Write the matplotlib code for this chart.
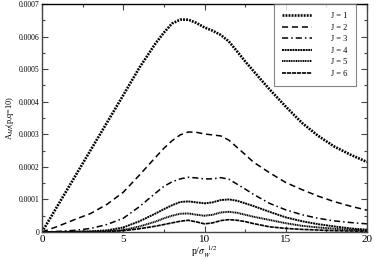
import numpy as np
import matplotlib.pyplot as plt
from matplotlib.ticker import MultipleLocator

plt.rcParams['font.family'] = ['Liberation Serif', 'DejaVu Serif']
plt.rcParams['mathtext.fontset'] = 'stix'

x = [0, 1, 2, 3, 4, 5, 6, 7, 7.5, 8, 8.5, 9, 9.5, 10, 10.5, 11, 11.5, 12, 12.5, 13,
     14, 15, 16, 17, 18, 19, 20]

# values in units of 1e-4
j1 = [0, 0.84, 1.68, 2.52, 3.36, 4.2, 5.05, 5.8, 6.12, 6.4, 6.52, 6.52, 6.42, 6.28, 6.18, 6.05,
      5.85, 5.55, 5.24, 4.95, 4.38, 3.85, 3.35, 2.95, 2.62, 2.37, 2.15]
j2 = [0, 0.18, 0.38, 0.57, 0.85, 1.22, 1.75, 2.3, 2.57, 2.8, 2.98, 3.07, 3.06, 3.01, 2.98, 2.95,
      2.82, 2.6, 2.38, 2.15, 1.82, 1.52, 1.3, 1.1, 0.93, 0.79, 0.67]
j3 = [0, 0.02, 0.05, 0.11, 0.23, 0.42, 0.78, 1.2, 1.4, 1.54, 1.63, 1.68, 1.66, 1.63, 1.63, 1.67,
      1.62, 1.47, 1.32, 1.16, 0.88, 0.68, 0.53, 0.42, 0.34, 0.29, 0.25]
j4 = [0, 0, 0.01, 0.02, 0.05, 0.14, 0.33, 0.57, 0.7, 0.82, 0.92, 0.94, 0.91, 0.88, 0.91, 0.98,
      1.0, 0.96, 0.88, 0.8, 0.62, 0.45, 0.33, 0.24, 0.17, 0.11, 0.07]
j5 = [0, 0, 0, 0.01, 0.02, 0.06, 0.17, 0.32, 0.42, 0.5, 0.56, 0.57, 0.53, 0.5, 0.53, 0.6,
      0.62, 0.59, 0.53, 0.47, 0.37, 0.27, 0.19, 0.14, 0.1, 0.07, 0.05]
j6 = [0, 0, 0, 0, 0.01, 0.04, 0.1, 0.18, 0.23, 0.28, 0.33, 0.36, 0.31, 0.25, 0.28, 0.35,
      0.38, 0.36, 0.32, 0.26, 0.16, 0.11, 0.08, 0.06, 0.04, 0.03, 0.02]

series = [j1, j2, j3, j4, j5, j6]
labels = ["J = 1", "J = 2", "J = 3", "J = 4", "J = 5", "J = 6"]
styles = [(0, (0.7, 0.45)), (0, (4, 2.5)), (0, (4, 2, 1, 2)), (0, (1, 0.35)), (0, (0.6, 0.3)), (0, (2.5, 0.5))]
widths = [1.9, 1.1, 1.1, 1.4, 1.4, 1.2]

fig = plt.figure(figsize=(3.74, 2.61), dpi=100)
ax = fig.add_axes([42 / 374, 1 - 232 / 261, 325 / 374, 228 / 261])

for y, lab, ls, lw in zip(series, labels, styles, widths):
    ax.plot(x, np.array(y) * 1e-4, color='black', linestyle=ls, linewidth=lw, label=lab)

ax.set_xlim(0, 20)
ax.set_ylim(0, 0.0007)
ax.xaxis.set_major_locator(MultipleLocator(5))
ax.xaxis.set_minor_locator(MultipleLocator(2.5))
ax.yaxis.set_minor_locator(MultipleLocator(0.00005))
ax.set_yticks(np.arange(0, 0.00071, 0.0001))
ax.set_yticklabels(["0", "0.0001", "0.0002", "0.0003", "0.0004", "0.0005", "0.0006", "0.0007"])
ax.tick_params(axis='both', which='both', direction='in', top=True, right=True, colors='#444444')
ax.tick_params(axis='both', which='major', length=4, width=0.8)
ax.tick_params(axis='both', which='minor', length=2, width=0.8)
ax.tick_params(axis='x', labelsize=8, labelcolor='black', pad=2)
ax.tick_params(axis='y', labelsize=5.5, labelcolor='black', pad=2)
for s in ax.spines.values():
    s.set_color('#444444')
    s.set_linewidth(1)
ax.spines['top'].set_color('black')

ax.set_xlabel(r"p/$\sigma_{W}^{\ \ 1/2}$", fontsize=7, labelpad=0)
ax.set_ylabel(r"A$_{MI}$(p,q=10)", fontsize=6, labelpad=2)

leg = ax.legend(loc='upper right', bbox_to_anchor=(0.966, 1.0), borderaxespad=0,
                fontsize=6, frameon=True, fancybox=False, handlelength=3.6,
                labelspacing=0.42, handletextpad=2.3, borderpad=1.0)
leg.get_frame().set_edgecolor('#666666')
leg.get_frame().set_linewidth(0.8)

fig.savefig("out.png", dpi=100)
